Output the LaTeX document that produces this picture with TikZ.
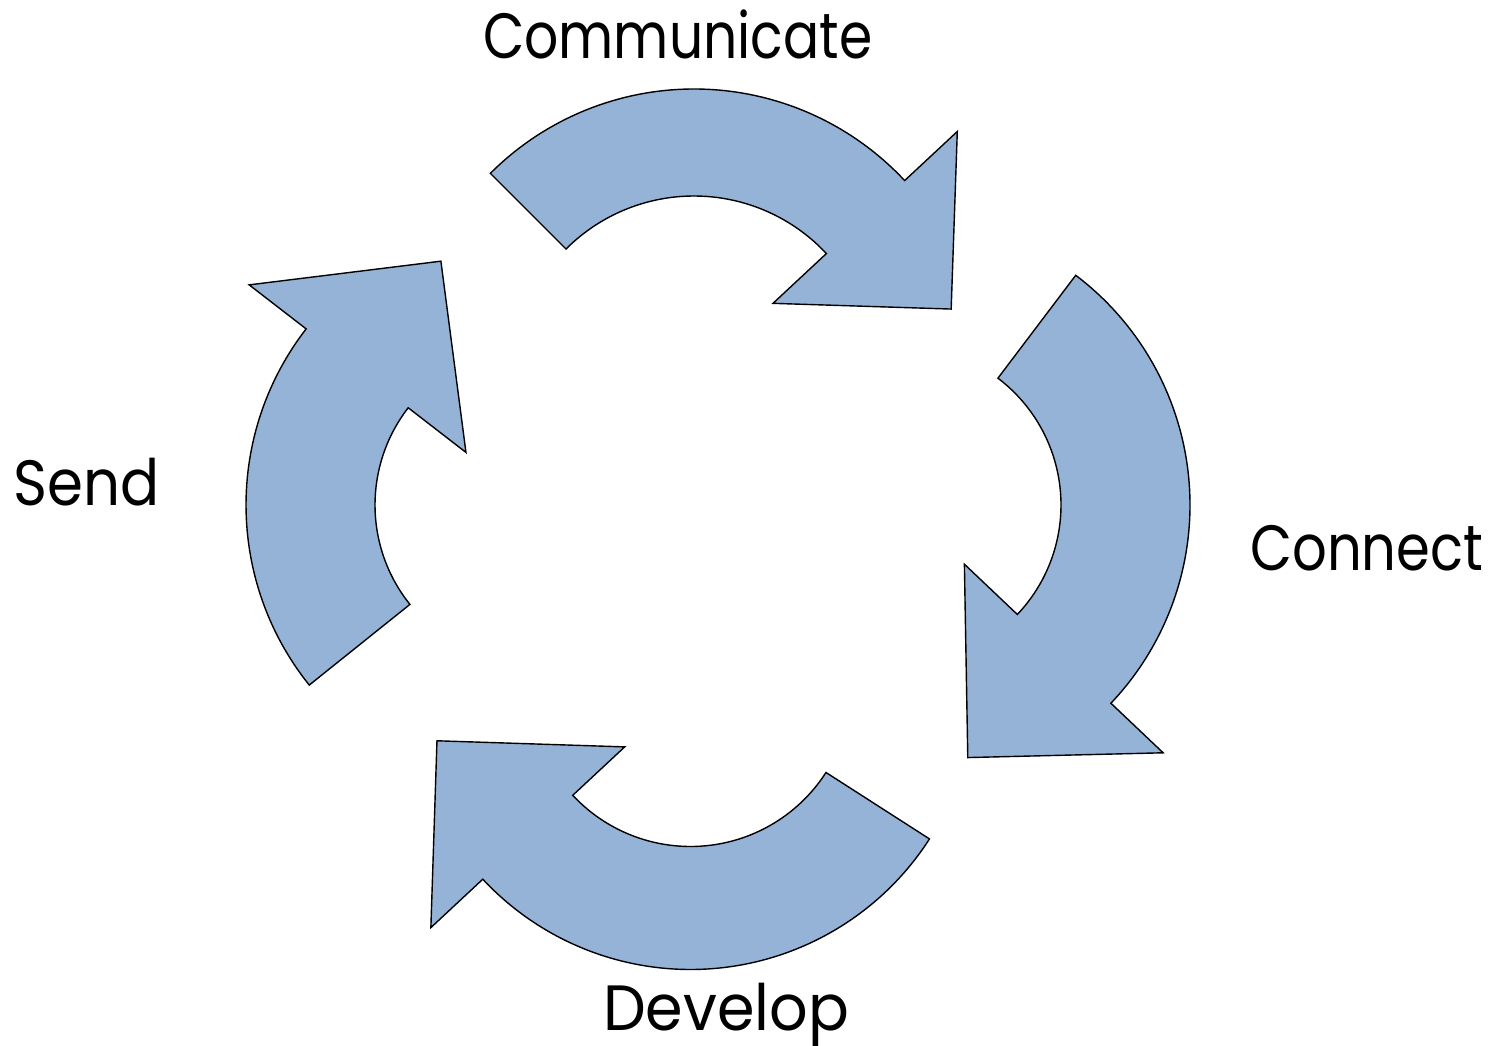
\documentclass[tikz,border=0pt]{standalone}
\usepackage{fontspec}
\usepackage{graphicx}
\setmainfont{Poppins}
\usetikzlibrary{calc}
\definecolor{arrowblue}{HTML}{95B3D7}
\tikzset{
  cyc/.style={fill=arrowblue, draw=black, line width=1.4pt, line join=miter},
  lab/.style={font=\fontsize{64}{70}\selectfont, inner sep=0pt, anchor=base west}
}
% #1 centre, #2 outer radius, #3 inner radius, #4 tail angle, #5 head angle,
% #6 outer barb radius, #7 inner barb radius, #8 tip (angle:radius)
\newcommand\cycarrow[8]{%
  \draw[cyc] ($#1+(#4:#2)$) arc[start angle=#4, end angle=#5, radius=#2]
    -- ($#1+(#5:#6)$) -- ($#1+(#8)$) -- ($#1+(#5:#7)$) -- ($#1+(#5:#3)$)
    arc[start angle=#5, end angle=#4, radius=#3] -- cycle;}
\newcommand\fitw[2]{\resizebox{#1}{\height}{#2}}
\begin{document}
\begin{tikzpicture}[x=1pt,y=1pt]
\useasboundingbox (0,0) rectangle (1501,-1046);
\cycarrow{(694,-377)}{288}{181}{135}{43}{360}{108}{14.8:266}
\cycarrow{(902,-505)}{288}{159}{52.9}{-43.5}{360}{86}{-75.4:261}
\cycarrow{(690.5,-685.5)}{284}{161}{-32.7}{-137}{355}{90}{-167.7:259.5}
\cycarrow{(534,-505)}{288}{159}{218.7}{142.3}{360}{86}{110.9:261}
\node[lab] (communicate) at (483,-59) {\fitw{389pt}{Communicate}};
\node[lab] (send) at (13,-505) {\fitw{146pt}{Send}};
\node[lab] (connect) at (1250,-570) {\fitw{233pt}{Connect}};
\node[lab] (develop) at (603,-1030) {\fitw{246pt}{Develop}};
\end{tikzpicture}
\end{document}
